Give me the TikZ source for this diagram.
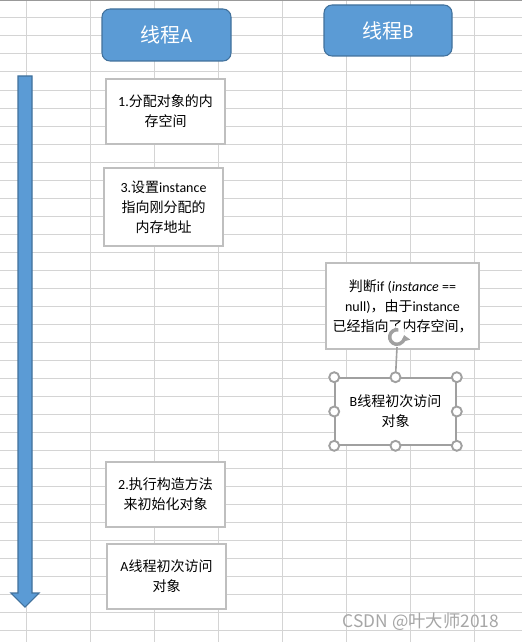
\documentclass[tikz,border=0pt]{standalone}
\usepackage{fontspec}
\usetikzlibrary{arrows.meta}
\setmainfont{Carlito}
\newfontfamily\cjk{Noto Sans CJK SC}
\definecolor{headblue}{RGB}{91,155,213}
\definecolor{headedge}{RGB}{65,113,156}
\definecolor{gridgray}{RGB}{212,212,212}
\definecolor{boxgray}{RGB}{191,191,191}
\definecolor{handlegray}{RGB}{160,160,160}

\begin{document}
\begin{tikzpicture}[x=0.75pt,y=-0.75pt,
  header/.style={draw=headedge,fill=headblue,line width=0.8pt,rounded corners=6pt,
    text=white,font=\fontsize{15}{18}\selectfont,inner sep=0pt},
  taskbox/.style={draw=boxgray,fill=white,line width=0.8pt,align=center,
    font=\fontsize{10.5}{15}\selectfont,inner sep=0pt},
  handle/.style={draw=handlegray,fill=white,line width=1.4pt,circle,
    minimum size=7.5pt,inner sep=0pt}]
\useasboundingbox (0,0) rectangle (522,642);
% sheet grid
\fill[white] (0,0) rectangle (522,642);
\foreach \gx in {26.5,90.5,154.5,218.5,282.5,346.5,410.5,474.5}
  \draw[gridgray,line width=0.75pt] (\gx,0) -- (\gx,642);
\foreach \gy in {1,...,35}
  \draw[gridgray,line width=0.75pt] (0,18*\gy) -- (522,18*\gy);
\draw[gray!80,line width=1pt] (0,0.8) -- (522,0.8);
% time arrow
\draw[headedge,fill=headblue,line width=0.8pt] (18,76) -- (32,76) -- (32,593) -- (39,593)
  -- (25,607) -- (11,593) -- (18,593) -- cycle;
% thread headers
\node[header,minimum width=96.75pt,minimum height=39pt] (threadA) at (166.5,35) {{\cjk 线程}A};
\node[header,minimum width=96pt,minimum height=38.25pt] (threadB) at (388,30.5) {{\cjk 线程}B};
% thread A steps
\node[taskbox,minimum width=89.25pt,minimum height=48.75pt] (alloc) at (165.5,111.5)
  {1.{\cjk 分配对象的内}\\{\cjk 存空间}};
\node[taskbox,minimum width=89.25pt,minimum height=58.5pt] (assign) at (163.5,207)
  {3.{\cjk 设置}instance\\{\cjk 指向刚分配的}\\{\cjk 内存地址}};
\node[taskbox,minimum width=89.25pt,minimum height=48.75pt] (ctor) at (165.5,494.5)
  {2.{\cjk 执行构造方法}\\{\cjk 来初始化对象}};
\node[taskbox,minimum width=89.25pt,minimum height=48.75pt] (useA) at (166.5,576.5)
  {A{\cjk 线程初次访问}\\{\cjk 对象}};
% thread B steps
\node[taskbox,minimum width=114.75pt,minimum height=64.5pt] (check) at (402.5,306)
  {{\cjk 判断}if (\textit{instance} ==\\null){\cjk ，由于}instance\\{\cjk 已经指向了内存空间，}};
\node[taskbox,draw=handlegray,line width=1.2pt,minimum width=90.75pt,minimum height=50.25pt] (useB) at (395.5,411.5)
  {B{\cjk 线程初次访问}\\{\cjk 对象}};
% selection handles
\node[circle,fill=white,fill opacity=0.85,minimum size=17pt,inner sep=0pt] (rot) at (397,337) {};
\draw[handlegray,line width=2.6pt,-{Triangle[length=4.5pt,width=7pt]}] (rot.center) ++(80:5.5pt) arc (80:375:5.5pt);
\draw[handlegray,line width=1.2pt] (397,347) -- (useB.north);
\foreach \hp in {north west,north,north east,west,east,south west,south,south east}
  \node[handle] at (useB.\hp) {};
% watermark
\node[text=gray!70,font=\cjk\fontsize{13}{15}\selectfont] (mark) at (421,622) {CSDN @叶大师2018};
\end{tikzpicture}
\end{document}
